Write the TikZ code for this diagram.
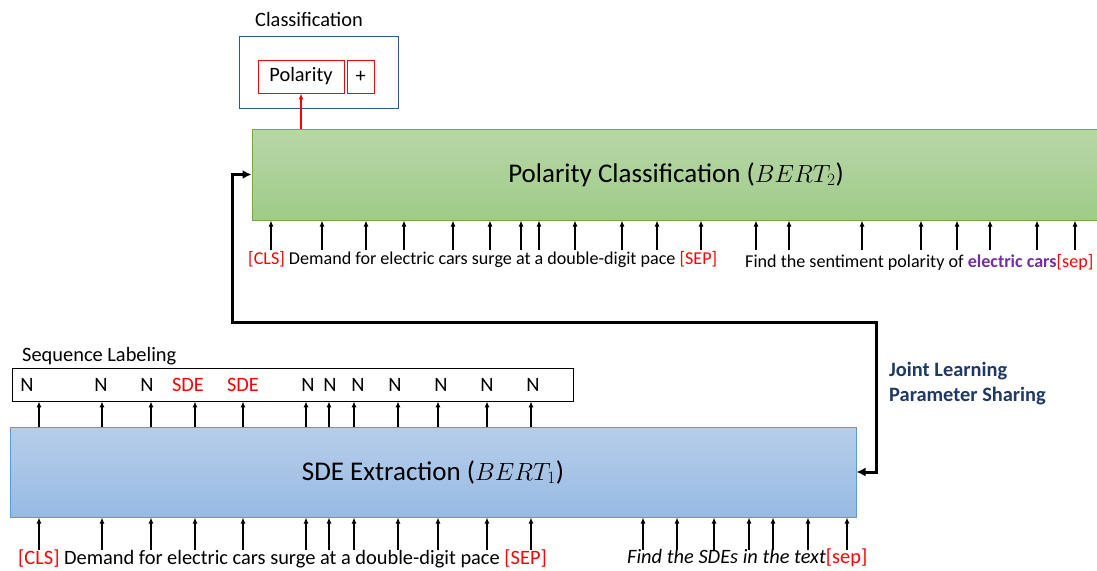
\documentclass[tikz,border=0pt]{standalone}
\usepackage{fontspec}
\setmainfont{Carlito}
\usetikzlibrary{arrows.meta, positioning}
\definecolor{tokred}{RGB}{255,0,0}
\definecolor{purp}{RGB}{112,48,160}
\definecolor{navy}{RGB}{31,56,100}
\definecolor{outblue}{RGB}{47,85,151}
\definecolor{boxgreen}{RGB}{112,173,71}
\definecolor{boxblue}{RGB}{91,155,213}

\begin{document}
\begin{tikzpicture}[x=1pt,y=-1pt,
  token/.style={font=\fontsize{20.4}{24}\selectfont,inner sep=0pt},
  small/.style={font=\fontsize{18.1}{22}\selectfont,inner sep=0pt},
  up/.style={line width=1.3pt,-{Latex[length=6pt,width=5pt]}},
  redbox/.style={draw=tokred,line width=0.9pt,minimum height=33pt,inner sep=0pt,font=\fontsize{20.4}{24}\selectfont},
  joint/.style={line width=3pt,{Latex[length=9pt,width=9pt]}-{Latex[length=9pt,width=9pt]}}]
\useasboundingbox (0,0) rectangle (1097,570);
%classification output
\node[token,anchor=base west] (clstitle) at (255,26) {Classification};
\node[draw=outblue,line width=1pt,minimum width=159pt,minimum height=72pt] (clsbox) at (318.5,72) {};
\node[redbox,minimum width=86pt] (polbox) at (301,76.5) {Polarity};
\node[redbox,minimum width=27pt] (plusbox) at (360.8,76.5) {+};
%green BERT box
\node[draw=boxgreen,line width=1pt,top color={rgb,255:red,183;green,215;blue,168},bottom color={rgb,255:red,159;green,203;blue,136},
  minimum width=848pt,minimum height=91pt,font=\fontsize{27}{32}\selectfont] (polar) at (676,174.5) {Polarity Classification ($BERT_2$)};
\draw[tokred,line width=1.2pt,-{Latex[length=6pt,width=5pt]}] (polar.north -| polbox.south) -- (polbox.south);
%inputs of the green box
\foreach \x [count=\i] in {271,322,366,404,453,490,521,539,575,622,657,701,756,789,862,921,957,990,1037,1075} {
  \coordinate (pin\i) at (\x,250);
  \draw[up] (pin\i) -- (pin\i |- polar.south);
}
\node[small,anchor=base west] (sentA) at (248,264) {\textcolor{tokred}{[CLS]} Demand for electric cars surge at a double-digit pace \textcolor{tokred}{[SEP]}};
\node[small,anchor=base west] (queryA) at (745,267) {Find the sentiment polarity of \textbf{\textcolor{purp}{electric cars}}\textcolor{tokred}{[sep]}};
%blue BERT box
\node[draw=boxblue,line width=1pt,top color={rgb,255:red,183;green,206;blue,234},bottom color={rgb,255:red,151;green,186;blue,227},
  minimum width=846pt,minimum height=90pt,font=\fontsize{27}{32}\selectfont] (sde) at (433,472) {SDE Extraction ($BERT_1$)};
%joint learning
\coordinate (jl) at (232,322);
\coordinate (jr) at (876,322);
\draw[joint] (polar.west) -| (jl) -- (jr) |- (sde.east);
\node[token,anchor=base west,align=left,text=navy,font=\fontsize{20.4}{25}\selectfont\bfseries] (jlabel) at (889,401) {Joint Learning\\Parameter Sharing};
%sequence labeling
\node[token,anchor=base west] (seqtitle) at (22,361) {Sequence Labeling};
\node[draw,line width=0.8pt,minimum width=561pt,minimum height=33pt] (seqbox) at (292.5,384.5) {};
\foreach \x/\t [count=\i] in {27/N,101/N,147/N,188/{\textcolor{tokred}{SDE}},243/{\textcolor{tokred}{SDE}},308/N,330/N,358/N,395/N,441/N,487/N,533/N}
  \node[token,anchor=base] (lab\i) at (\x,391) {\t};
\foreach \x [count=\i] in {39,102,151,195,243,306,329,354,398,438,487,531} {
  \coordinate (sout\i) at (\x,427);
  \draw[up] (sout\i) -- (sout\i |- seqbox.south);
}
%inputs of the blue box
\foreach \x [count=\i] in {39,102,151,195,243,306,329,354,398,438,487,531,643,677,714,749,773,808,847} {
  \coordinate (sin\i) at (\x,550);
  \draw[up] (sin\i) -- (sin\i |- sde.south);
}
\node[token,anchor=base west] (sentB) at (18,564) {\textcolor{tokred}{[CLS]} Demand for electric cars surge at a double-digit pace \textcolor{tokred}{[SEP]}};
\node[token,anchor=base west] (queryB) at (627,563) {\itshape Find the SDEs in the text\textcolor{tokred}{\upshape[sep]}};
\end{tikzpicture}
\end{document}
